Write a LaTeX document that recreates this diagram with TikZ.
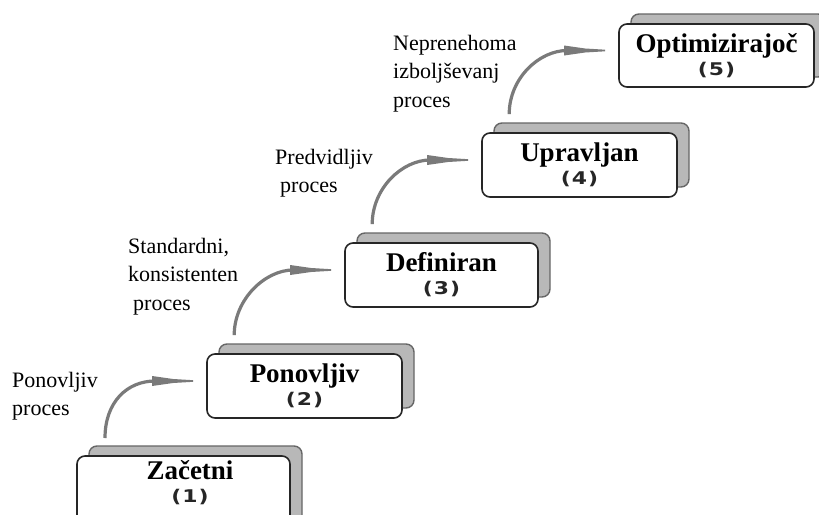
\documentclass[tikz,border=0pt]{standalone}
\usepackage{fontspec}
\setmainfont{Liberation Serif}
\newfontfamily\numfamily[FakeStretch=1.25,LetterSpace=6]{DejaVu Sans}
\usetikzlibrary{shadows,calc}
\definecolor{backgray}{HTML}{B8B8B8}
\definecolor{arrowgray}{HTML}{7A7A7A}
\newcommand\stagetitle{\fontsize{27}{23}\selectfont\bfseries}
\newcommand\stagenum{\numfamily\bfseries\fontsize{17.5}{23}\selectfont\color{black!85}}
\tikzset{
  stage/.style={draw=black!85, line width=1.6pt, fill=white, rounded corners=8pt,
    minimum height=64pt, inner sep=0pt, align=center, font=\stagetitle,
    copy shadow={shadow xshift=12pt, shadow yshift=10pt, fill=backgray, draw=black!60, line width=1.4pt}},
  stagetext/.style={inner sep=0pt, align=center, font=\stagetitle},
  lbl/.style={anchor=north west, inner sep=0pt, align=left, font=\fontsize{22}{28.5}\selectfont},
  arrowline/.style={draw=arrowgray, line width=3.2pt},
}
\newcommand\wedgetip[1]{\fill[arrowgray] (#1) ++(0,-0.8) -- ++(-20,-1.2) -- ++(-21,-3) -- ++(0,10) -- ++(21,-3) -- ++(20,-1.2) -- cycle;}
\begin{document}
\begin{tikzpicture}[x=1pt,y=-1pt]
\useasboundingbox (0,0) rectangle (819,514);
\clip (0,0) rectangle (819,514);
\fill[white] (0,0) rectangle (819,514);

% stages
\node[stage, minimum width=213pt, minimum height=84pt] (s1) at (183.5,498) {};
\node[stagetext] (s1t) at (190,483) {Začetni\\{\stagenum(1)}};
\node[stage, minimum width=195pt] (s2) at (304.5,386) {Ponovljiv\\{\stagenum(2)}};
\node[stage, minimum width=193pt] (s3) at (441.5,275) {Definiran\\{\stagenum(3)}};
\node[stage, minimum width=195pt] (s4) at (579.5,165) {Upravljan\\{\stagenum(4)}};
\node[stage, minimum width=195pt, minimum height=63pt] (s5) at (716.5,55.5) {Optimizirajoč\\{\stagenum(5)}};

% labels
\node[lbl] (t1) at (12,372) {Ponovljiv\\proces};
\node[lbl] (t2) at (128,238) {Standardni,\\konsistenten\\\hspace*{5pt}proces};
\node[lbl] (t3) at (275,149) {Predvidljiv\\\hspace*{5pt}proces};
\node[lbl] (t4) at (393,35) {Neprenehoma\\izboljševanj\\proces};

% arrows
\coordinate (s1top) at (77,456);
\foreach \a/\b/\n in {s1top/s2/1, s2/s3/2, s3/s4/3, s4/s5/4}{
  \ifnum\n=1
    \coordinate (a\n s) at ($(\a)+(28,-18)$);
  \else
    \coordinate (a\n s) at ($(\a.north west)+(28,-18)$);
  \fi
  \coordinate (a\n e) at ($(\b.west)+(-13,-5)$);
  \coordinate (a\n w) at ($(a\n e)+(-38,0)$);
  \draw[arrowline] (a\n s) .. controls +(0,-36) and +(-28,0) .. (a\n w);
  \wedgetip{a\n e}
}
\end{tikzpicture}
\end{document}
